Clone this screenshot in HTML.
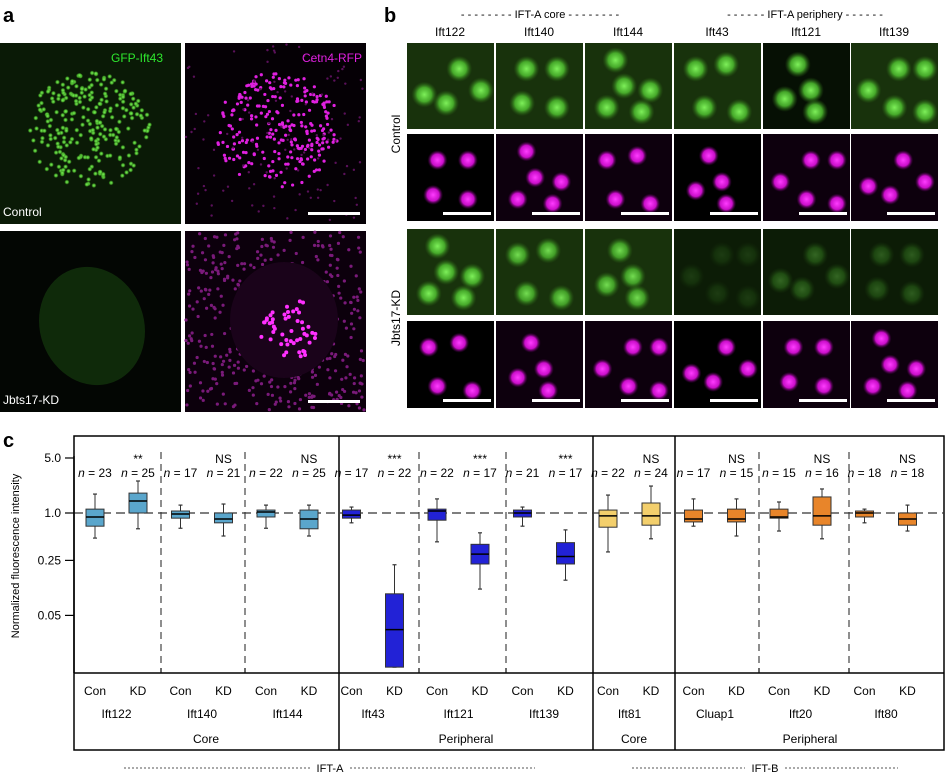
<!DOCTYPE html>
<html><head><meta charset="utf-8">
<style>
body{margin:0;background:#fff;width:946px;height:774px;overflow:hidden;font-family:"Liberation Sans",sans-serif;}
svg{position:absolute;left:0;top:0}
text{font-family:"Liberation Sans",sans-serif}
</style></head>
<body>
<svg id="fig" width="946" height="774" viewBox="0 0 946 774">
<defs>
<radialGradient id="gG"><stop offset="0" stop-color="#7ef05a"/><stop offset="0.55" stop-color="#4fc030" stop-opacity="0.85"/><stop offset="1" stop-color="#2c6a14" stop-opacity="0"/></radialGradient>
<radialGradient id="gM"><stop offset="0" stop-color="#ff3cff"/><stop offset="0.6" stop-color="#e010e0" stop-opacity="0.9"/><stop offset="1" stop-color="#600060" stop-opacity="0"/></radialGradient>
<radialGradient id="gGd"><stop offset="0" stop-color="#3f8a22"/><stop offset="1" stop-color="#1b3a0c" stop-opacity="0"/></radialGradient>
</defs>
<g id="panelA"></g>
<g id="panelB"></g>
<g id="panelC"></g>
</svg>
<script>
// ---- Chart data (panel c) ----
const genes = ["Ift122","Ift140","Ift144","Ift43","Ift121","Ift139","Ift81","Cluap1","Ift20","Ift80"];
const nCon = [23,17,22,17,22,21,22,17,15,18];
const nKD  = [25,21,25,22,17,17,24,15,16,18];
const sig  = ["**","NS","NS","***","***","***","NS","NS","NS","NS"];
const conWhiskerHi = [1.74,1.26,1.26,1.19,1.51,1.19,1.69,1.51,1.38,1.12];
const conQ3        = [1.12,1.06,1.09,1.09,1.12,1.09,1.09,1.09,1.12,1.06];
const conMedian    = [0.89,0.97,1.03,0.94,1.06,1.00,0.92,0.84,0.89,1.00];
const conQ1        = [0.68,0.86,0.89,0.86,0.81,0.89,0.66,0.77,0.86,0.89];
const conWhiskerLo = [0.48,0.64,0.64,0.75,0.43,0.68,0.32,0.68,0.59,0.75];
const kdWhiskerHi  = [2.55,1.30,1.26,0.22,0.56,0.61,2.20,1.51,2.02,1.26];
const kdQ3         = [1.79,1.00,1.09,0.094,0.40,0.42,1.34,1.12,1.60,1.00];
const kdMedian     = [1.42,0.84,0.84,0.033,0.30,0.28,0.92,0.84,0.92,0.84];
const kdQ1         = [1.00,0.75,0.63,0.011,0.225,0.225,0.70,0.77,0.70,0.70];
const kdWhiskerLo  = [0.63,0.51,0.51,0.011,0.108,0.14,0.47,0.51,0.47,0.59];
const yTicks = [5.0,1.0,0.25,0.05];
const yTickLabels = ["5.0","1.0","0.25","0.05"];
const colors = ["#5aa6cc","#5aa6cc","#5aa6cc","#2222d6","#2222d6","#2222d6","#f3cf6c","#e8852a","#e8852a","#e8852a"];

const NS="http://www.w3.org/2000/svg";
function mk(tag,attrs,parent,txt){const e=document.createElementNS(NS,tag);for(const k in attrs)e.setAttribute(k,attrs[k]);if(txt!==undefined)e.textContent=txt;parent.appendChild(e);return e;}

// simple deterministic pseudo-random for decorative textures
let seed=7;function rnd(){seed=(seed*16807)%2147483647;return (seed-1)/2147483646;}

// ---------- Panel a ----------
const A=document.getElementById('panelA');
let t=mk('text',{x:3,y:22,'font-size':20,'font-weight':'bold',fill:'#000'},A,'a');

const aPanels=[[0,43,'#0a1a06'],[185,43,'#050005'],[0,231,'#030603'],[185,231,'#0c000c']];
aPanels.forEach((p,i)=>{
  const r=mk('rect',{x:p[0],y:p[1],width:181,height:181,fill:p[2]},A);
  
});
// control green dots
for(let i=0;i<260;i++){const a=rnd()*6.283,rr=Math.sqrt(rnd());const cx=88+Math.cos(a)*rr*62,cy=130+Math.sin(a)*rr*58;mk('circle',{cx:cx,cy:cy,r:2.6,fill:'url(#gG)'},A);}
for(let i=0;i<260;i++){const a=rnd()*6.283,rr=Math.sqrt(rnd());const cx=278+Math.cos(a)*rr*62,cy=130+Math.sin(a)*rr*58;mk('circle',{cx:cx,cy:cy,r:1.6,fill:'#e020e0'},A);}
for(let i=0;i<120;i++){mk('circle',{cx:186+rnd()*178,cy:44+rnd()*178,r:1.2,fill:'#5a105a'},A);}
// KD green cell
mk('ellipse',{cx:92,cy:326,rx:52,ry:60,fill:'#0f2a0a',transform:'rotate(-20 92 326)'},A);
// KD magenta
for(let i=0;i<420;i++){mk('circle',{cx:186+rnd()*178,cy:232+rnd()*179,r:1.6,fill:'#7a1a7a'},A);}
mk('ellipse',{cx:284,cy:320,rx:54,ry:58,fill:'#1a031a'},A);
for(let i=0;i<50;i++){const a=rnd()*6.283,rr=Math.sqrt(rnd());mk('circle',{cx:290+Math.cos(a)*rr*30,cy:330+Math.sin(a)*rr*32,r:2,fill:'#ff30ff'},A);}
t=mk('text',{x:163,y:62,'font-size':12,fill:'#2ee82e','text-anchor':'end'},A,'GFP-Ift43');
t=mk('text',{x:362,y:62,'font-size':12,fill:'#e020e0','text-anchor':'end'},A,'Cetn4-RFP');
t=mk('text',{x:3,y:216,'font-size':12,fill:'#fff'},A,'Control');
t=mk('text',{x:3,y:404,'font-size':12,fill:'#fff'},A,'Jbts17-KD');
mk('rect',{x:308,y:212,width:52,height:3,fill:'#fff'},A);
mk('rect',{x:308,y:400,width:52,height:3,fill:'#fff'},A);

// ---------- Panel b ----------
const B=document.getElementById('panelB');
t=mk('text',{x:384,y:22,'font-size':20,'font-weight':'bold',fill:'#000'},B,'b');
t=mk('text',{x:540,y:18,'font-size':11,fill:'#000','text-anchor':'middle'},B,'- - - - - - - - IFT-A core - - - - - - - -');
t=mk('text',{x:805,y:18,'font-size':11,fill:'#000','text-anchor':'middle'},B,'- - - - - - IFT-A periphery - - - - - -');
const bCols=["Ift122","Ift140","Ift144","Ift43","Ift121","Ift139"];
const colX=[407,496,585,674,763,851];
const rowY=[[43,86,'g'],[134,87,'m'],[229,86,'gk'],[321,87,'m']];
const gBright=[1,1,1,1,1,1], gKD=[1,0.9,0.9,0.15,0.35,0.3];
const blobs=[[[.6,.3],[.2,.6],[.45,.7],[.85,.55]],[[.35,.3],[.7,.3],[.3,.7],[.7,.75]],[[.35,.2],[.45,.5],[.75,.55],[.25,.75],[.65,.8]],[[.25,.3],[.6,.25],[.35,.75],[.75,.8]],[[.4,.25],[.55,.55],[.25,.65],[.6,.8]],[[.55,.3],[.85,.3],[.2,.55],[.5,.75],[.85,.8]]];
bCols.forEach((c,ci)=>{
  t=mk('text',{x:colX[ci]+43,y:36,'font-size':12,fill:'#000','text-anchor':'middle'},B,c);
  
  rowY.forEach((r,ri)=>{
    const isG=r[2]!=='m';
    const bright=r[2]==='gk'?gKD[ci]:1;
    const bg=isG?(ci===4?'#061004':'#18320c'):(ci===0||ci===3?'#000':'#0d000d');
    const cell=mk('rect',{x:colX[ci],y:r[0],width:87,height:r[1],fill:r[2]==='gk'&&bright<0.5?'#0c1c06':bg},B);
    
    blobs[(ci+ri)%6].forEach(p=>{
      mk('circle',{cx:colX[ci]+p[0]*87,cy:r[0]+p[1]*r[1],r:isG?13:10,fill:isG?'url(#gG)':'url(#gM)',opacity:isG?bright:1},B);
    });
    if(!isG) mk('rect',{x:colX[ci]+36,y:r[0]+r[1]-9,width:48,height:3,fill:'#fff'},B);
  });
});
t=mk('text',{x:0,y:0,'font-size':12,fill:'#000','text-anchor':'middle',transform:'translate(400,134) rotate(-90)'},B,'Control');
t=mk('text',{x:0,y:0,'font-size':12,fill:'#000','text-anchor':'middle',transform:'translate(400,318) rotate(-90)'},B,'Jbts17-KD');

// ---------- Panel c ----------
const C=document.getElementById('panelC');
const L=74,R=944,T=436,Bt=673,TB=750;
const step=(R-L)/20.25;
function yv(v){return 513-78.7*Math.log10(v);}
function xCon(i){return [95,181,266,352,437,523,609,695,780,865][0]!==undefined? L+21+ i*85.5 + (i>=6?1:0): 0;}
const conX=genes.map((g,i)=>L+21+i*85.5);
function xKD(i){return conX[i]+43;}
t=mk('text',{x:3,y:447,'font-size':20,'font-weight':'bold',fill:'#000'},C,'c');
// frame
let fr=mk('rect',{x:L,y:T,width:R-L,height:TB-T,fill:'none',stroke:'#000','stroke-width':1.5},C);
mk('line',{x1:L,y1:Bt,x2:R,y2:Bt,stroke:'#000','stroke-width':1.5},C);
[339,593,675].forEach(x=>mk('line',{x1:x,y1:T,x2:x,y2:TB,stroke:'#000','stroke-width':1.5},C));
[161,245,419,506,759,849].forEach(x=>{mk('line',{x1:x,y1:452,x2:x,y2:Bt,stroke:'#444','stroke-width':1.2,'stroke-dasharray':'7,5'},C);mk('line',{x1:x,y1:Bt,x2:x,y2:Bt-5,stroke:'#000'},C);});
// ref line at 1.0
let rl=mk('line',{x1:L,y1:yv(1),x2:R,y2:yv(1),stroke:'#333','stroke-width':1.3,'stroke-dasharray':'9,5'},C);
// y axis
let ax=mk('line',{x1:L,y1:T+20,x2:L,y2:Bt,stroke:'#000','stroke-width':1.5},C);
yTicks.forEach((v,i)=>{
  mk('line',{x1:L-9,y1:yv(v),x2:L,y2:yv(v),stroke:'#000','stroke-width':1.2},C);
  const tx=mk('text',{x:L-13,y:yv(v)+4,'font-size':12,fill:'#000','text-anchor':'end'},C,yTickLabels[i]);
  
});
t=mk('text',{x:0,y:0,'font-size':11,fill:'#000','text-anchor':'middle',transform:'translate(19,556) rotate(-90)'},C,'Normalized fluorescence intensity');
function box(x,wh,q3,md,q1,wl,col,name){
  const g=mk('g',{},C);
  
  
  mk('line',{x1:x,y1:yv(wh),x2:x,y2:yv(wl),stroke:'#333','stroke-width':1},g);
  mk('line',{x1:x-2,y1:yv(wh),x2:x+2,y2:yv(wh),stroke:'#333','stroke-width':1.2},g);
  mk('line',{x1:x-2,y1:yv(wl),x2:x+2,y2:yv(wl),stroke:'#333','stroke-width':1.2},g);
  mk('rect',{x:x-9,y:yv(q3),width:18,height:Math.max(1,yv(q1)-yv(q3)),fill:col,stroke:'#333','stroke-width':1},g);
  mk('line',{x1:x-9,y1:yv(md),x2:x+9,y2:yv(md),stroke:'#000','stroke-width':1.5},g);
}
genes.forEach((gn,i)=>{
  const xc=conX[i],xk=xKD(i),lg=gn.toLowerCase();
  box(xc,conWhiskerHi[i],conQ3[i],conMedian[i],conQ1[i],conWhiskerLo[i],colors[i],'box-'+lg+'-con');
  box(xk,kdWhiskerHi[i],kdQ3[i],kdMedian[i],kdQ1[i],kdWhiskerLo[i],colors[i],'box-'+lg+'-kd');
  let a=mk('text',{x:xc,y:477,'font-size':12,fill:'#000','text-anchor':'middle'},C);
  
  mk('tspan',{'font-style':'italic'},a,'n');mk('tspan',{},a,' = '+nCon[i]);
  let b=mk('text',{x:xk,y:477,'font-size':12,fill:'#000','text-anchor':'middle'},C);
  
  mk('tspan',{'font-style':'italic'},b,'n');mk('tspan',{},b,' = '+nKD[i]);
  let s=mk('text',{x:xk,y:463,'font-size':12,fill:'#000','text-anchor':'middle'},C,sig[i]);
  
  let c1=mk('text',{x:xc,y:695,'font-size':12,fill:'#000','text-anchor':'middle'},C,'Con');
  
  let k1=mk('text',{x:xk,y:695,'font-size':12,fill:'#000','text-anchor':'middle'},C,'KD');
  
  let gl=mk('text',{x:(xc+xk)/2,y:718,'font-size':12,fill:'#000','text-anchor':'middle'},C,gn);
  
});
[["Core",206],["Peripheral",466],["Core",634],["Peripheral",810]].forEach(g=>{
  const e=mk('text',{x:g[1],y:743,'font-size':12,fill:'#000','text-anchor':'middle'},C,g[0]);
  
});
[[124,535,'IFT-A',330],[632,898,'IFT-B',765]].forEach(g=>{
  mk('line',{x1:g[0],y1:768,x2:g[3]-20,y2:768,stroke:'#555','stroke-dasharray':'2,2'},C);
  mk('line',{x1:g[3]+20,y1:768,x2:g[1],y2:768,stroke:'#555','stroke-dasharray':'2,2'},C);
  const e=mk('text',{x:g[3],y:772,'font-size':11,fill:'#000','text-anchor':'middle'},C,g[2]);
  
});
</script>
</body></html>
